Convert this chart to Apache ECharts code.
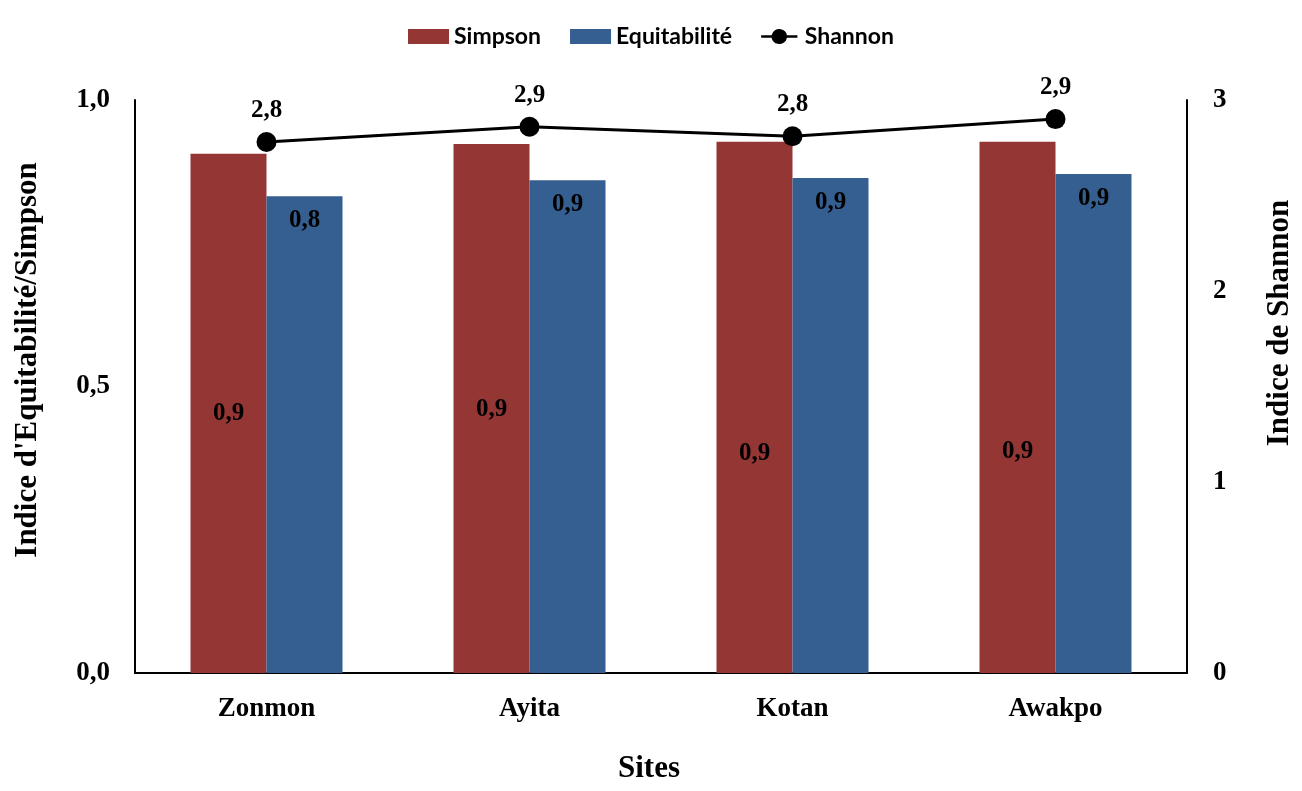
<!DOCTYPE html>
<html>
<head>
<meta charset="utf-8">
<script src="https://cdn.jsdelivr.net/npm/echarts@6/dist/echarts.min.js"></script>
<style>
  html, body { margin: 0; padding: 0; background: #fff; }
  #chart { width: 1302px; height: 791px; }
</style>
</head>
<body>
<div id="chart"></div>
<script>
// data
const sites = ['Zonmon', 'Ayita', 'Kotan', 'Awakpo']
const simpson = [0.906, 0.923, 0.927, 0.927]
const equitabilite = [0.832, 0.860, 0.864, 0.871]
const shannon = [2.78, 2.86, 2.81, 2.90]
const leftTicks = [0, 0.5, 1]
const rightTicks = [0, 1, 2, 3]

// the Simpson labels were moved by hand in the original
const simpsonLabelShift = [0, 1, 46, 44]

const serif = '"Liberation Serif", "Times New Roman", serif'
const comma = v => v.toFixed(1).replace('.', ',')
const labelFont = { fontFamily: serif, fontWeight: 'bold', fontSize: 25, color: '#000' }
const tickFont = { fontFamily: serif, fontWeight: 'bold', fontSize: 27, color: '#000' }
const nameFont = { fontFamily: serif, fontWeight: 'bold', fontSize: 31, color: '#000' }

const chart = echarts.init(document.getElementById('chart'))
chart.setOption({
  animation: false,
  legend: {
    top: 20,
    left: 'center',
    itemWidth: 41,
    itemHeight: 15,
    itemGap: 29,
    textStyle: { fontFamily: 'Lato, "Open Sans", sans-serif', fontWeight: 'bold', fontSize: 23, color: '#000' },
    data: [
      { name: 'Simpson', icon: 'rect' },
      { name: 'Equitabilité', icon: 'rect' },
      { name: 'Shannon', icon: 'path://M0,8.5H13.2A10,10 0 0 1 32.8,8.5H46V11.5H32.8A10,10 0 0 1 13.2,11.5H0Z' }
    ]
  },
  grid: { left: 135, right: 115, top: 100, bottom: 118, outerBoundsMode: 'none' },
  xAxis: {
    type: 'category',
    data: sites,
    name: 'Sites',
    nameLocation: 'middle',
    nameGap: 80,
    nameTextStyle: Object.assign({ padding: [0, 24, 0, 0] }, nameFont),
    axisLine: { lineStyle: { color: '#000', width: 2 } },
    axisTick: { show: false },
    axisLabel: Object.assign({ margin: 23 }, tickFont)
  },
  yAxis: [
    {
      type: 'value',
      min: 0,
      max: 1,
      interval: 0.5,
      name: "Indice d'Equitabilité/Simpson",
      nameLocation: 'middle',
      nameGap: 92,
      nameTextStyle: Object.assign({ padding: [0, 0, 0, 53] }, nameFont),
      axisLine: { show: true, lineStyle: { color: '#000', width: 2 } },
      axisTick: { show: false },
      splitLine: { show: false },
      axisLabel: Object.assign({
        margin: 25,
        formatter: v => leftTicks.includes(v) ? comma(v) : ''
      }, tickFont)
    },
    {
      type: 'value',
      min: 0,
      max: 3,
      interval: 1,
      name: 'Indice de Shannon',
      nameLocation: 'middle',
      nameGap: 77,
      nameTextStyle: Object.assign({ padding: [0, 0, 0, 127] }, nameFont),
      axisLine: { show: true, lineStyle: { color: '#000', width: 2 } },
      axisTick: { show: false },
      splitLine: { show: false },
      axisLabel: Object.assign({
        margin: 26,
        formatter: v => rightTicks.includes(v) ? String(v) : ''
      }, tickFont)
    }
  ],
  series: [
    {
      name: 'Simpson',
      type: 'bar',
      barWidth: 76,
      barGap: '0%',
      itemStyle: { color: '#943634' },
      data: simpson.map((v, i) => ({
        value: v,
        label: { offset: [0, simpsonLabelShift[i]] }
      })),
      label: Object.assign({
        show: true,
        position: 'inside',
        formatter: p => comma(p.value)
      }, labelFont)
    },
    {
      name: 'Equitabilité',
      type: 'bar',
      barWidth: 76,
      itemStyle: { color: '#365f91' },
      data: equitabilite,
      label: Object.assign({
        show: true,
        position: 'insideTop',
        distance: 12,
        formatter: p => comma(p.value)
      }, labelFont)
    },
    {
      name: 'Shannon',
      type: 'line',
      yAxisIndex: 1,
      data: shannon,
      symbol: 'circle',
      symbolSize: 20,
      itemStyle: { color: '#000' },
      lineStyle: { color: '#000', width: 3 },
      label: Object.assign({
        show: true,
        position: 'top',
        distance: 9,
        formatter: p => comma(p.value)
      }, labelFont)
    }
  ]
})
</script>
</body>
</html>
